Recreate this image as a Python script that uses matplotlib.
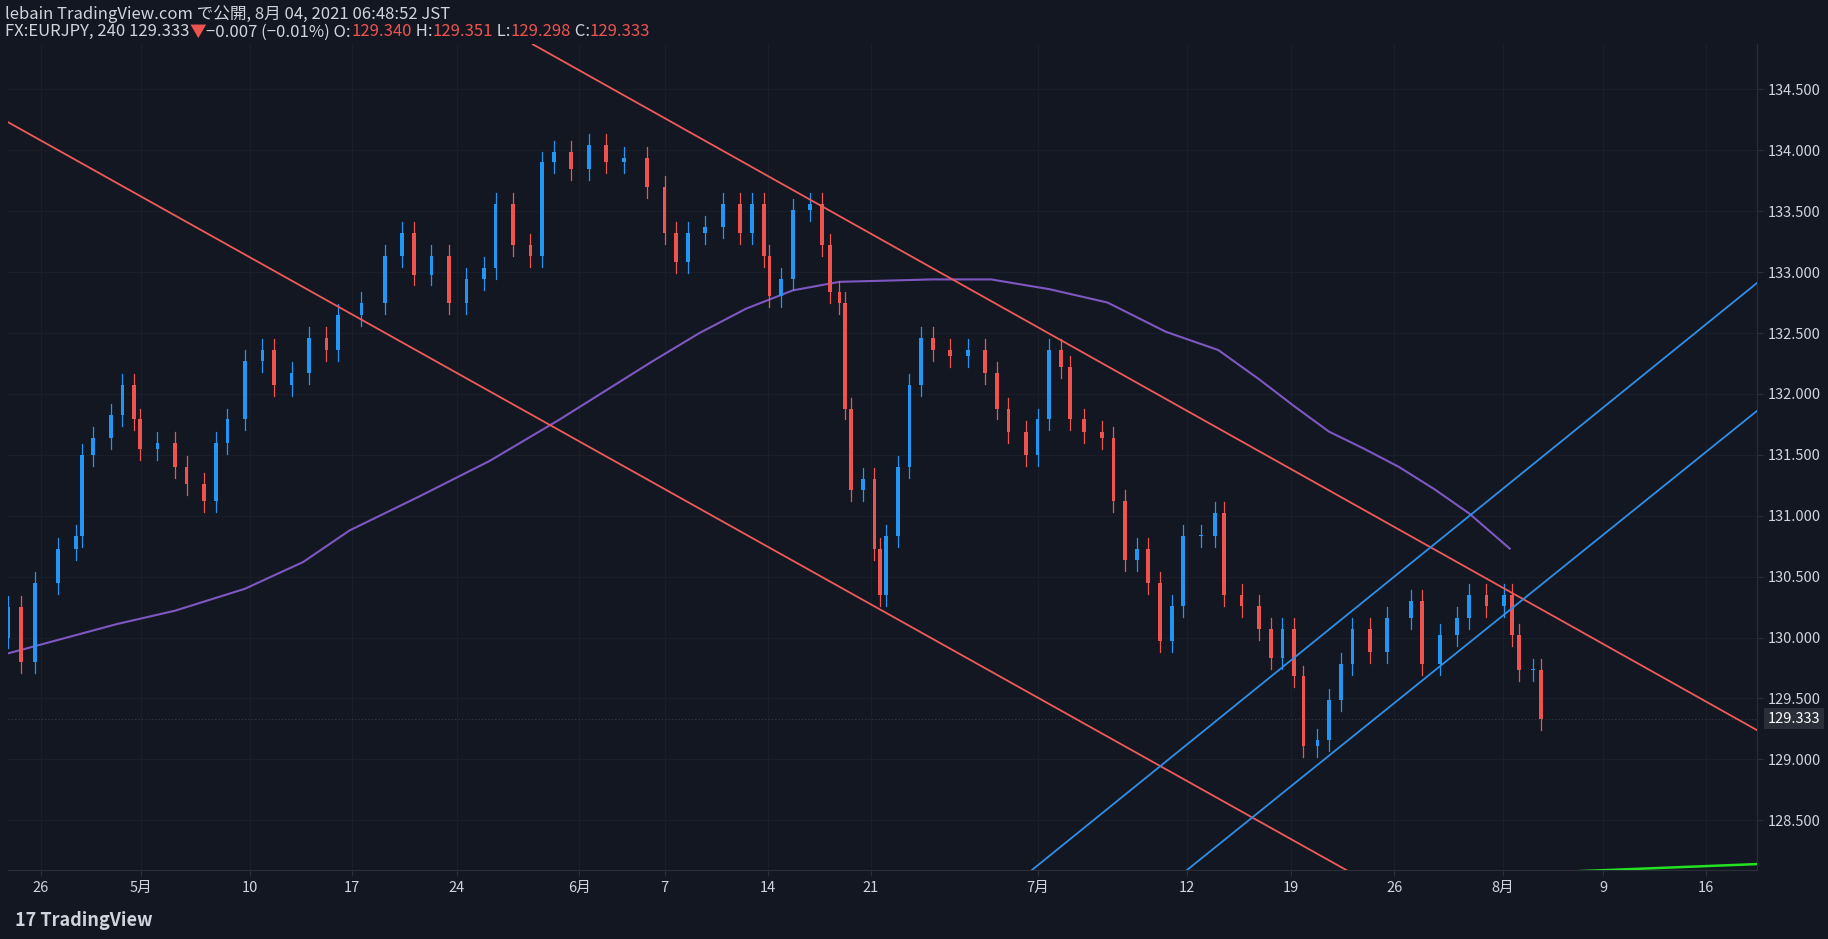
import matplotlib
matplotlib.use("Agg")
import matplotlib.pyplot as plt
import numpy as np
plt.rcParams["font.family"] = ["Noto Sans CJK JP"]

# time axis unit: chart time units (week = 88.6 units)
times = [7,18,30,50,65,70,80,95,105,115,120,135,150,160,175,
         185,195,210,225,235,250,265,280,290,310,330,345,355,370,385,
         400,415,425,440,455,465,475,490,505,520,535,555,570,580,590,
         605,620,635,645,655,660,670,680,695,705,712,720,725,730,740,
         750,755,760,770,780,790,800,815,830,845,855,865,880,890,900,
         910,918,930,945,955,965,975,985,995,1005,1015,1030,1042,1050,1065,
         1080,1090,1100,1110,1118,1130,1140,1150,1160,1175,1190,1210,1220,1235,1250,
         1260,1275,1290,1297,1303,1315,1322]
closes = [130.25,129.8,130.45,130.73,130.83,131.5,131.64,131.83,132.07,131.79,131.55,131.6,131.4,131.26,131.12,
          131.6,131.79,132.27,132.36,132.07,132.17,132.46,132.36,132.65,132.75,133.13,133.32,132.98,133.13,132.75,
          132.94,133.03,133.56,133.22,133.13,133.9,133.99,133.85,134.04,133.9,133.94,133.7,133.32,133.08,133.32,
          133.37,133.56,133.32,133.56,133.13,132.8,132.94,133.51,133.56,133.22,132.84,132.75,131.88,131.21,131.3,
          130.73,130.35,130.83,131.4,132.07,132.46,132.36,132.31,132.36,132.17,131.88,131.69,131.5,131.79,132.36,
          132.22,131.79,131.69,131.64,131.12,130.64,130.73,130.45,129.97,130.26,130.83,130.83,131.02,130.35,130.26,
          130.07,129.83,130.07,129.68,129.11,129.16,129.49,129.78,130.07,129.88,130.16,130.3,129.78,130.02,130.16,
          130.35,130.26,130.35,130.02,129.73,129.73,129.333]
opens = [130.0] + closes[:-1]
tick_pos = [35,121,214,302,392,497,570,659,747,890,1018,1107,1196,1289,1375,1463]
tick_labels = ["26","5月","10","17","24","6月","7","14","21","7月","12","19","26","8月","9","16"]
ma_x = [7,100,150,210,260,300,360,420,480,520,560,600,640,680,720,800,850,900,950,1000,1045,1080,1110,1140,1170,1200,1230,1260,1295]
ma_y = [129.87,130.11,130.22,130.4,130.62,130.88,131.16,131.45,131.79,132.03,132.27,132.5,132.7,132.85,132.92,132.94,132.94,132.86,132.75,132.51,132.36,132.12,131.9,131.69,131.55,131.4,131.22,131.02,130.73]
red_lines = [((457,134.87),(1507,129.24)), ((7,134.23),(1155,128.09))]
blue_lines = [((885,128.09),(1507,132.91)), ((1018,128.09),(1507,131.86))]
green_line = ((1323,128.07),(1507,128.14))
yticks = [128.5,129.0,129.5,130.0,130.5,131.0,131.5,132.0,132.5,133.0,133.5,134.0,134.5]
last = 129.333

BG = "#131722"; UP = "#2196f3"; DN = "#ef5350"; TXT = "#d1d4dc"
fig = plt.figure(figsize=(18.28,9.39), dpi=100, facecolor=BG)
ax = fig.add_axes([0.0045,0.0733,0.9566,0.8795], facecolor=BG)
w = 3.2
for x,o,c in zip(times,opens,closes):
    col = UP if c >= o else DN
    ax.plot([x,x],[min(o,c)-0.09,max(o,c)+0.09],color=col,lw=0.9,zorder=3)
    ax.bar(x, max(abs(c-o),0.01), bottom=min(o,c), width=w, color=col, zorder=4, linewidth=0)
ax.plot(ma_x, ma_y, color="#7e57c2", lw=1.5, zorder=2)
for (a,b) in red_lines:
    ax.plot([a[0],b[0]],[a[1],b[1]],color="#f05a5a",lw=1.3,zorder=5)
for (a,b) in blue_lines:
    ax.plot([a[0],b[0]],[a[1],b[1]],color="#2f8fe8",lw=1.3,zorder=5)
ax.plot([green_line[0][0],green_line[1][0]],[green_line[0][1],green_line[1][1]],color="#22e322",lw=1.8,zorder=5)
ax.axhline(last, color="#363a45", lw=0.8, ls=(0,(1,2)))
ax.set_xlim(7,1507); ax.set_ylim(128.09,134.87)
ax.set_xticks(tick_pos); ax.set_xticklabels(tick_labels)
ax.yaxis.tick_right(); ax.set_yticks(yticks); ax.set_yticklabels([f"{v:.3f}" for v in yticks])
ax.tick_params(labelsize=10.5, length=4, colors="#2a2e39", labelcolor=TXT)
for s in ["top","left"]:
    ax.spines[s].set_visible(False)
for s in ["right","bottom"]:
    ax.spines[s].set_color("#2a2e39")
ax.grid(True, color="#1a1e29", lw=0.8)
ax.text(1.006, last, f"{last:.3f}", transform=ax.get_yaxis_transform(), va="center", ha="left",
        fontsize=10.5, color="#ffffff", bbox=dict(boxstyle="square,pad=0.25", fc="#2a2e39", ec="none"))
fig.text(0.003,0.985,"lebain TradingView.com で公開, 8月 04, 2021 06:48:52 JST",color=TXT,fontsize=12,va="center")
y2 = 0.966
parts = [("FX:EURJPY, 240 129.333",TXT),("▼",DN),("−0.007 (−0.01%) O:",TXT),("129.340",DN),(" H:",TXT),("129.351",DN),
         (" L:",TXT),("129.298",DN),(" C:",TXT),("129.333",DN)]
fig.canvas.draw()
r = fig.canvas.get_renderer()
xpos = 0.003
for t,c in parts:
    tt = fig.text(xpos,y2,t,color=c,fontsize=12,va="center")
    xpos += tt.get_window_extent(r).width/fig.bbox.width
fig.text(0.008,0.02,"17 TradingView",color=TXT,fontsize=13,fontweight="bold",va="center")
fig.savefig("out.png", dpi=100, facecolor=BG)
